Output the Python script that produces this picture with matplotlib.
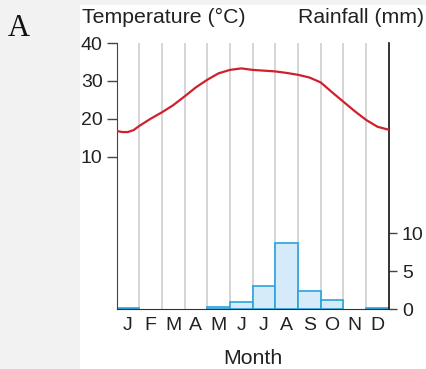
import matplotlib
matplotlib.use("Agg")
import matplotlib.pyplot as plt
from matplotlib.patches import Rectangle

plt.rcParams['font.family'] = ['Liberation Sans', 'DejaVu Sans']

# --------- Дані ---------
months = ["J", "F", "M", "A", "M", "J", "J", "A", "S", "O", "N", "D"]
rainfall = [0.1, 0, 0, 0, 0.25, 0.9, 3.1, 8.7, 2.4, 1.15, 0, 0.1]

# температура, прочитана з кривої (позиція в місяцях від початку року)
temp_x = [0, 0.25, 0.5, 0.75, 1.0, 1.5, 2.0, 2.5, 3.0, 3.5, 4.0, 4.5, 5.0,
          5.5, 6.0, 6.5, 7.0, 7.5, 8.0, 8.5, 9.0, 9.5, 10.0, 10.5, 11.0,
          11.5, 12.0]
temp_y = [16.8, 16.5, 16.5, 17.0, 18.1, 20.0, 21.7, 23.6, 25.9, 28.3, 30.3,
          32.0, 32.9, 33.3, 32.9, 32.7, 32.5, 32.1, 31.6, 30.9, 29.6, 27.0,
          24.5, 22.0, 19.7, 17.9, 17.1]

temp_ticks = [10, 20, 30, 40]
rain_ticks = [0, 5, 10]

W, H = 426, 369
fig = plt.figure(figsize=(W / 100, H / 100), dpi=100, facecolor="#f2f2f2")
fig.patches.append(Rectangle((80 / W, 0), 1 - 80 / W, 1 - 5 / H,
                             transform=fig.transFigure, facecolor="white",
                             edgecolor="none", zorder=-5))

ax = fig.add_axes([116.5 / W, 1 - 309 / H, (388.8 - 116.5) / W, (309 - 43) / H])
ax.set_facecolor("none")
ax2 = ax.twinx()
ax2.set_facecolor("none")

# сітка по межах місяців
for m in range(1, 12):
    ax2.axvline(m, color="#d2d2d2", lw=1.3, zorder=0)

# опади
for i, r in enumerate(rainfall):
    if r > 0:
        ax2.bar(i + 0.5, r, width=1.0, color="#d5ebf9", edgecolor="#2aa3db",
                linewidth=1.2, zorder=2)

# температура
ax.plot(temp_x, temp_y, color="#d0202e", lw=1.6, zorder=3,
        solid_capstyle="round")

ax.set_xlim(0, 12)
ax.set_ylim(-30.2, 40)
ax2.set_ylim(0, 35.1)
ax.set_zorder(2)
ax2.set_zorder(1)

ax.set_yticks(temp_ticks)
ax2.set_yticks(rain_ticks)
ax.set_xticks([i + 0.5 for i in range(12)])
ax.set_xticklabels(months)

ax.tick_params(axis="y", direction="out", length=7, width=1, pad=3,
               labelsize=14, color="#444444", labelcolor="#222222")
ax2.tick_params(axis="y", direction="out", length=5.5, width=1, pad=4,
                labelsize=14, color="#444444", labelcolor="#222222")
ax.tick_params(axis="x", length=0, pad=6, labelsize=14, labelcolor="#222222")

for a in (ax, ax2):
    a.spines["top"].set_visible(False)
ax.spines["right"].set_visible(False)
ax2.spines["left"].set_visible(False)
ax2.spines["bottom"].set_visible(False)
ax.spines["left"].set_color("#444444")
ax.spines["bottom"].set_color("#333333")
ax2.spines["right"].set_color("#111111")
ax2.spines["right"].set_linewidth(1.2)

fig.text(82 / W, 1 - 23 / H, "Temperature (°C)", fontsize=15.3,
         color="#222222", ha="left", va="baseline")
fig.text(424 / W, 1 - 23 / H, "Rainfall (mm)", fontsize=15.3,
         color="#222222", ha="right", va="baseline")
fig.text(252.5 / W, 1 - 364 / H, "Month", fontsize=15.3,
         color="#222222", ha="center", va="baseline")
fig.text(8 / W, 1 - 36 / H, "A", fontsize=22, family="Liberation Serif",
         color="#111111", ha="left", va="baseline")

fig.savefig("out.png", dpi=100, facecolor=fig.get_facecolor())
